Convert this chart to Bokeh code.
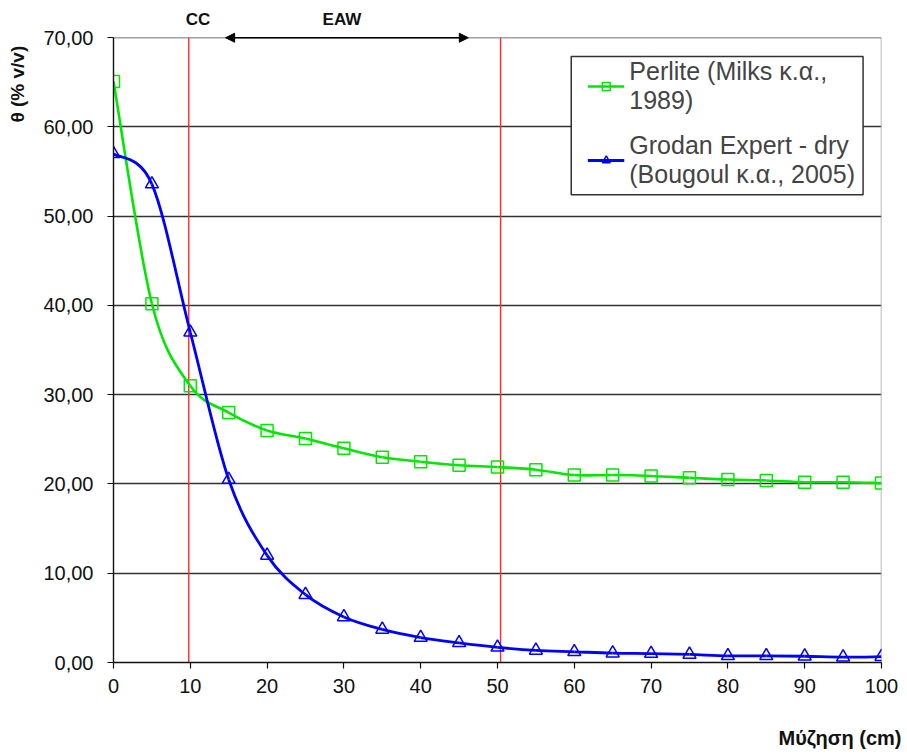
import math
from bokeh.plotting import figure
from bokeh.models import (Range1d, FixedTicker, Span, Arrow, NormalHead, LinearAxis,
                          Legend, LegendItem, ColumnDataSource, BoxAnnotation)
from bokeh.embed import file_html
from bokeh.resources import INLINE

# ---------------- data ----------------
depth = [0, 5, 10, 15, 20, 25, 30, 35, 40, 45, 50, 55, 60, 65, 70, 75, 80, 85, 90, 95, 100]
perlite = [65.1, 40.2, 31.0, 28.0, 26.0, 25.1, 24.0, 23.0, 22.5, 22.1, 21.9, 21.6, 21.0,
           21.0, 20.9, 20.7, 20.5, 20.4, 20.2, 20.2, 20.1]
grodan = [57.0, 53.6, 37.0, 20.5, 12.0, 7.6, 5.1, 3.7, 2.8, 2.2, 1.7, 1.35, 1.2,
          1.05, 1.0, 0.9, 0.75, 0.75, 0.7, 0.6, 0.65]

perlite_label = "Perlite (Milks κ.α.,\n1989)"
grodan_label = "Grodan Expert - dry\n(Bougoul κ.α., 2005)"

x_ticks = [0, 10, 20, 30, 40, 50, 60, 70, 80, 90, 100]
y_ticks = [0, 10, 20, 30, 40, 50, 60, 70]
y_tick_labels = ["0,00", "10,00", "20,00", "30,00", "40,00", "50,00", "60,00", "70,00"]

ref_lines = [9.8, 50.4]          # CC and end of EAW (cm)
eaw_arrow = (14.6, 46.2)
top_texts = ["CC", "EAW"]
top_text_pos = [11.0, 29.75]

x_title = "Μύζηση (cm)"
x_title_pos = 94.6
y_title = "θ (% v/v)"
y_title_pos = 64.8

# legend frame (layout, in plot units)
legend_frame = dict(left=59.6, right=97.6, top=67.9, bottom=52.4)


def bezier_source(xs, ys):
    """Excel-like smoothed line: cubic Bezier control points from neighbours."""
    n = len(xs)
    d = dict(x0=[], y0=[], x1=[], y1=[], cx0=[], cy0=[], cx1=[], cy1=[])
    for i in range(n - 1):
        im = max(i - 1, 0)
        ip = min(i + 2, n - 1)
        d["x0"].append(xs[i]); d["y0"].append(ys[i])
        d["x1"].append(xs[i + 1]); d["y1"].append(ys[i + 1])
        d["cx0"].append(xs[i] + (xs[i + 1] - xs[im]) / 6.0)
        d["cy0"].append(ys[i] + (ys[i + 1] - ys[im]) / 6.0)
        d["cx1"].append(xs[i + 1] - (xs[ip] - xs[i]) / 6.0)
        d["cy1"].append(ys[i + 1] - (ys[ip] - ys[i]) / 6.0)
    return ColumnDataSource(d)


FONT = "Liberation Sans"
GREEN = "#00E800"
BLUE = "#0000FF"
BORDER = "#A0A0A0"

x0, x1 = x_ticks[0], x_ticks[-1]
y0, y1 = y_ticks[0], y_ticks[-1]

p = figure(width=905, height=756, x_range=Range1d(x0, x1), y_range=Range1d(y0, y1 + 0.7),
           output_backend="svg", toolbar_location=None,
           min_border_left=113, min_border_right=24, min_border_top=31, min_border_bottom=94)
p.background_fill_color = "white"
p.border_fill_color = "white"
p.outline_line_color = None

# grid
p.xgrid.grid_line_color = None
p.ygrid.ticker = FixedTicker(ticks=y_ticks[1:-1])
p.ygrid.grid_line_color = "#333333"
p.ygrid.grid_line_width = 1.4

# plot-area border (top and right, grey)
p.add_layout(Span(location=y1, dimension="width", line_color=BORDER, line_width=1.5,
                  level="underlay"))
p.segment(x0=[x1], y0=[y0], x1=[x1], y1=[y1], line_color=BORDER, line_width=1.5)

# axes
for ax in (p.xaxis[0], p.yaxis[0]):
    ax.axis_line_color = "#111111"
    ax.axis_line_width = 1.4
    ax.major_tick_line_color = "#111111"
    ax.major_tick_line_width = 1.2
    ax.major_tick_out = 6
    ax.major_tick_in = 0
    ax.minor_tick_line_color = None
    ax.major_label_text_font = FONT
    ax.major_label_text_font_size = "20px"
    ax.major_label_text_color = "#111111"
p.xaxis.ticker = FixedTicker(ticks=x_ticks)
p.yaxis.ticker = FixedTicker(ticks=y_ticks)
p.yaxis.bounds = (y0, y1)
p.yaxis.major_label_overrides = {float(t): s for t, s in zip(y_ticks, y_tick_labels)}
p.xaxis.major_label_standoff = 10
p.yaxis.major_label_standoff = 14


def text_axis(ticks, labels, standoff, size, orientation="horizontal"):
    ax = LinearAxis(ticker=FixedTicker(ticks=ticks),
                    major_label_overrides={float(t): s for t, s in zip(ticks, labels)},
                    axis_line_color=None, major_tick_line_color=None,
                    minor_tick_line_color=None, major_tick_out=0, major_tick_in=0,
                    major_label_standoff=standoff, major_label_orientation=orientation,
                    major_label_text_font=FONT, major_label_text_font_size=size,
                    major_label_text_font_style="bold", major_label_text_color="#111111")
    return ax


# CC / EAW labels above plot
p.add_layout(text_axis(top_text_pos, top_texts, 3, "17px"), "above")
# axis titles
p.add_layout(text_axis([y_title_pos], [y_title], 12, "19px", "vertical"), "left")
p.add_layout(text_axis([x_title_pos], [x_title], 31, "20px"), "below")

# vertical reference lines (red)
p.segment(x0=ref_lines, y0=[y0] * len(ref_lines), x1=ref_lines, y1=[y1] * len(ref_lines),
          line_color="#FF2A2A", line_width=1.4)

# series
src_p = bezier_source(depth, perlite)
src_g = bezier_source(depth, grodan)
bz_p = p.bezier("x0", "y0", "x1", "y1", "cx0", "cy0", "cx1", "cy1", source=src_p,
                line_color=GREEN, line_width=2.6)
sc_p = p.scatter(depth, perlite, marker="square", size=12, line_color=GREEN,
                 line_width=1.5, fill_alpha=0)
bz_g = p.bezier("x0", "y0", "x1", "y1", "cx0", "cy0", "cx1", "cy1", source=src_g,
                line_color=BLUE, line_width=2.8)
sc_g = p.scatter(depth, grodan, marker="triangle", size=13, line_color=BLUE,
                 line_width=1.5, fill_alpha=0)

# legend frame + legend
p.add_layout(BoxAnnotation(**legend_frame, fill_color="white", fill_alpha=1.0,
                           line_color="#333333", line_width=1.5, line_alpha=1.0))
legend = Legend(items=[LegendItem(label=perlite_label, renderers=[bz_p, sc_p]),
                       LegendItem(label=grodan_label, renderers=[bz_g, sc_g])],
                location="top_right", margin=26, padding=0, spacing=16,
                glyph_width=37, label_standoff=5,
                label_text_font=FONT, label_text_font_size="25px",
                label_text_line_height=1.08,
                border_line_color=None, background_fill_alpha=0.0)
p.add_layout(legend)

# EAW double arrow along the top line
head = dict(size=9, fill_color="black", line_color="black")
p.add_layout(Arrow(x_start=eaw_arrow[0], y_start=y1, x_end=eaw_arrow[1], y_end=y1,
                   start=NormalHead(**head), end=NormalHead(**head),
                   line_color="black", line_width=1.6))

open("out.html", "w").write(file_html(p, INLINE))
